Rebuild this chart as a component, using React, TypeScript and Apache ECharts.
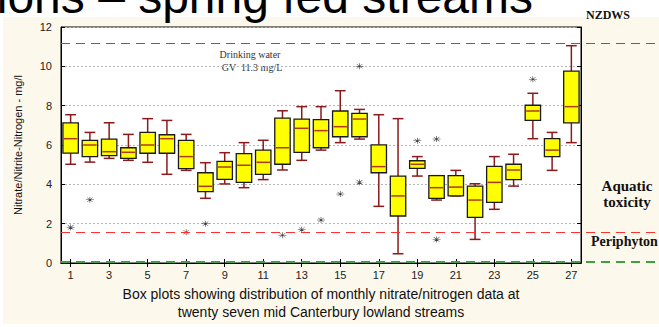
import React, { useEffect, useRef } from "react";
import * as echarts from "echarts";

const categories = Array.from({ length: 27 }, (_, i) => String(i + 1));
// whisker low, Q1, median, Q3, whisker high
const whiskerLow = [5.02, 5.13, 5.32, 5.22, 5.12, 4.51, 4.71, 3.29, 4.02, 3.83, 4.24, 4.73, 5.22, 5.74, 6.12, 6.3, 2.88, 0.47, 4.42, 3.2, 3.41, 1.2, 2.73, 3.91, 6.32, 4.71, 6.12];
const q1 = [5.59, 5.41, 5.46, 5.32, 5.58, 5.58, 4.8, 3.63, 4.25, 4.1, 4.51, 5.02, 5.63, 5.86, 6.42, 6.42, 4.59, 2.39, 4.81, 3.29, 3.41, 2.32, 3.08, 4.24, 7.25, 5.41, 7.13];
const medians = [6.32, 6.0, 5.66, 5.63, 6.0, 6.32, 5.41, 3.9, 4.88, 4.97, 5.12, 5.86, 6.85, 6.73, 6.93, 7.32, 4.9, 3.41, 5.02, 3.83, 3.86, 3.2, 4.1, 4.73, 7.73, 5.74, 7.95];
const q3 = [7.12, 6.24, 6.3, 5.86, 6.64, 6.52, 6.24, 4.59, 5.17, 5.56, 5.74, 7.37, 7.32, 7.29, 7.73, 7.61, 6.01, 4.42, 5.2, 4.44, 4.44, 3.91, 4.91, 5.02, 8.02, 6.32, 9.76];
const whiskerHigh = [7.54, 6.64, 7.13, 6.54, 7.34, 7.25, 6.54, 5.1, 5.61, 6.12, 6.24, 7.74, 7.95, 7.95, 8.76, 7.81, 7.54, 7.34, 5.41, 4.44, 4.71, 4.03, 5.41, 5.53, 8.63, 6.64, 11.05];
const outlierStream = [1, 2, 7, 8, 12, 13, 14, 15, 16, 16, 19, 20, 20, 25];
const outlierValue = [1.81, 3.22, 1.56, 2.0, 1.41, 1.7, 2.19, 3.51, 10.0, 4.1, 6.22, 6.3, 1.2, 9.34];
const yTicks = [0, 2, 4, 6, 8, 10, 12];
const nzdwsLine = 11.15;
const aquaticLine = 1.55;
const periphytonLine = 0.05;

const ASTERISK =
  "path://M0,4.6H10V5.4H0Z M4.6,0H5.4V10H4.6Z M1.2,1.7L1.7,1.2L8.8,8.3L8.3,8.8Z M8.3,1.2L8.8,1.7L1.7,8.8L1.2,8.3Z";

export default function App() {
  const ref = useRef<HTMLDivElement>(null);
  useEffect(() => {
    if (!ref.current) return;
    const chart = echarts.init(ref.current, null, { renderer: "svg" });
    const boxData = categories.map((_, i) => [i, whiskerLow[i], q1[i], medians[i], q3[i], whiskerHigh[i]]);
    const outliers = outlierStream.map((s, i) => [s - 1, outlierValue[i]]);
    const serif = "'Liberation Serif', 'DejaVu Serif', serif";
    const sans = "'Liberation Sans', Arial, sans-serif";
    chart.setOption({
      animation: false,
      backgroundColor: "transparent",
      grid: [
        { left: 61, right: 78, top: 27, bottom: 64, show: true, backgroundColor: "#ffffff", borderColor: "#000", borderWidth: 1 },
        { left: 61, right: 0, top: 27, bottom: 64, show: false },
      ],
      xAxis: [
        {
          type: "category",
          gridIndex: 0,
          data: categories,
          boundaryGap: true,
          axisLine: { lineStyle: { color: "#000", width: 1 } },
          axisTick: { show: true, inside: true, alignWithLabel: true, interval: 1, length: 4, lineStyle: { color: "#000" } },
          axisLabel: { interval: 1, fontSize: 11, color: "#222", fontFamily: sans, margin: 6 },
          name: "Box plots showing distribution of monthly nitrate/nitrogen data at\ntwenty seven mid Canterbury lowland streams",
          nameLocation: "middle",
          nameGap: 21,
          nameTextStyle: { fontSize: 14, color: "#111", fontFamily: sans, lineHeight: 18, verticalAlign: "top" },
        },
        {
          type: "category",
          gridIndex: 0,
          position: "top",
          data: categories,
          boundaryGap: true,
          axisLine: { lineStyle: { color: "#000" } },
          axisTick: { show: true, inside: true, alignWithLabel: true, interval: 1, length: 4, lineStyle: { color: "#000" } },
          axisLabel: { show: false },
        },
        { type: "value", gridIndex: 1, min: 0, max: 1, show: false },
      ],
      yAxis: [
        {
          type: "value",
          gridIndex: 0,
          min: yTicks[0],
          max: yTicks[yTicks.length - 1],
          interval: 2,
          axisLine: { show: true, lineStyle: { color: "#000" } },
          axisTick: { show: true, inside: true, length: 4, lineStyle: { color: "#000" } },
          axisLabel: { fontSize: 11, color: "#222", fontFamily: sans, margin: 9 },
          splitLine: { show: true, lineStyle: { color: "#b5b5b5", type: [2, 2], width: 1 } },
          name: "Nitrate/Nitrite-Nitrogen - mg/l",
          nameLocation: "middle",
          nameGap: 38,
          nameTextStyle: { fontSize: 11, color: "#111", fontFamily: sans },
        },
        {
          type: "value",
          gridIndex: 0,
          position: "right",
          min: 0,
          max: 12,
          interval: 2,
          axisLine: { show: true, lineStyle: { color: "#000" } },
          axisTick: { show: true, inside: true, length: 4, lineStyle: { color: "#000" } },
          axisLabel: { show: false },
          splitLine: { show: false },
        },
        { type: "value", gridIndex: 1, min: 0, max: 12, show: false },
      ],
      series: [
        {
          type: "line",
          xAxisIndex: 2,
          yAxisIndex: 2,
          data: [],
          silent: true,
          markLine: {
            silent: true,
            symbol: ["none", "none"],
            label: { show: false },
            data: [
              { yAxis: nzdwsLine, lineStyle: { color: "#5050ff", type: [9, 6], width: 1 } },
              { yAxis: aquaticLine, lineStyle: { color: "#ff3030", type: [9, 6], width: 1 } },
              { yAxis: periphytonLine, lineStyle: { color: "#3fa03f", type: [9, 6], width: 2.2 } },
            ],
          },
        },
        {
          type: "custom",
          xAxisIndex: 0,
          yAxisIndex: 0,
          data: boxData,
          encode: { x: 0, y: [1, 2, 3, 4, 5] },
          renderItem: (params: any, api: any) => {
            const idx = api.value(0);
            const pLo = api.coord([idx, api.value(1)]);
            const pQ1 = api.coord([idx, api.value(2)]);
            const pMed = api.coord([idx, api.value(3)]);
            const pQ3 = api.coord([idx, api.value(4)]);
            const pHi = api.coord([idx, api.value(5)]);
            const bw = api.size([1, 0])[0];
            const boxW = bw * 0.8;
            const capW = bw * 0.56;
            const x = pMed[0];
            const wStyle = { stroke: "#8b1a1a", lineWidth: 1.5 };
            return {
              type: "group",
              children: [
                { type: "line", shape: { x1: x, y1: pHi[1], x2: x, y2: pQ3[1] }, style: wStyle },
                { type: "line", shape: { x1: x, y1: pQ1[1], x2: x, y2: pLo[1] }, style: wStyle },
                { type: "line", shape: { x1: x - capW / 2, y1: pHi[1], x2: x + capW / 2, y2: pHi[1] }, style: wStyle },
                { type: "line", shape: { x1: x - capW / 2, y1: pLo[1], x2: x + capW / 2, y2: pLo[1] }, style: wStyle },
                {
                  type: "rect",
                  shape: { x: x - boxW / 2, y: pQ3[1], width: boxW, height: pQ1[1] - pQ3[1] },
                  style: { fill: "#ffff00", stroke: "#1a1a1a", lineWidth: 1.3 },
                },
                {
                  type: "line",
                  shape: { x1: x - boxW / 2 + 1, y1: pMed[1], x2: x + boxW / 2 - 1, y2: pMed[1] },
                  style: { stroke: "#b23a10", lineWidth: 1.5 },
                },
              ],
            };
          },
        },
        {
          type: "scatter",
          xAxisIndex: 0,
          yAxisIndex: 0,
          data: outliers,
          symbol: ASTERISK,
          symbolSize: [8, 6],
          itemStyle: { color: "#111" },
          silent: true,
        },
      ],
      graphic: [
        {
          type: "text",
          x: 533,
          y: -4,
          style: {
            text: "Nitrate concentrations – spring fed streams",
            font: "48px 'Liberation Sans', Arial, sans-serif",
            fill: "#000",
            textAlign: "right",
            textVerticalAlign: "middle",
          },
        },
        {
          type: "text",
          x: 250,
          y: 54,
          style: { text: "Drinking water", font: `10px ${serif}`, fill: "#333", textAlign: "center", textVerticalAlign: "middle" },
        },
        {
          type: "text",
          x: 252,
          y: 67,
          style: { text: "GV  11.3 mg/L", font: `10px ${serif}`, fill: "#333", textAlign: "center", textVerticalAlign: "middle" },
        },
        {
          type: "text",
          x: 586,
          y: 15,
          style: { text: "NZDWS", font: `bold 12px ${serif}`, fill: "#111", textAlign: "left", textVerticalAlign: "middle" },
        },
        {
          type: "text",
          x: 627,
          y: 186,
          style: { text: "Aquatic", font: `bold 15px ${serif}`, fill: "#111", textAlign: "center", textVerticalAlign: "middle" },
        },
        {
          type: "text",
          x: 627,
          y: 202,
          style: { text: "toxicity", font: `bold 15px ${serif}`, fill: "#111", textAlign: "center", textVerticalAlign: "middle" },
        },
        {
          type: "text",
          x: 591,
          y: 241,
          style: { text: "Periphyton", font: `bold 14px ${serif}`, fill: "#111", textAlign: "left", textVerticalAlign: "middle" },
        },
      ],
    });
    return () => chart.dispose();
  }, []);
  return (
    <div style={{ position: "fixed", left: 0, top: 0, width: 659, height: 327, background: "#ffffff", overflow: "hidden" }}>
      <div style={{ position: "absolute", left: 3, top: 17, width: 656, height: 307, background: "#fdf8ec" }} />
      <div ref={ref} style={{ position: "absolute", left: 0, top: 0, width: 659, height: 327 }} />
    </div>
  );
}
